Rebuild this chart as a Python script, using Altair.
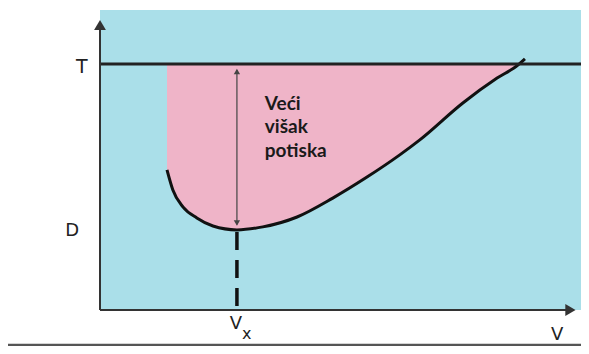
import altair as alt
import pandas as pd

# Drag curve D(V) (schematic units)
curve_v = [1.37, 1.49, 1.70, 1.98, 2.31, 2.80, 3.33, 4.03, 4.76, 5.46, 6.13, 6.54, 7.42, 8.12, 8.55, 8.69]
curve_f = [4.67, 4.00, 3.43, 3.07, 2.80, 2.67, 2.77, 3.10, 3.73, 4.43, 5.17, 5.67, 6.90, 7.73, 8.17, 8.37]
thrust_T = 8.2
v_x = 2.80
v_cross = 8.56

# labels
lab_text = ["T", "D", "V", "V", "x"]
lab_v = [-0.37, -0.57, 9.35, 2.78, 3.0]
lab_f = [8.10, 2.65, -0.83, -0.45, -0.80]
lab_size = [19, 18, 18, 18, 16]

note_lines = ["Veći", "višak", "potiska"]
note_v = 3.37
note_f = 6.67

BLUE = "#aadfe9"
PINK = "#efb4c8"

curve = pd.DataFrame({"V": curve_v, "F": curve_f})
fill = curve[curve["V"] <= v_cross].copy()
fill = pd.concat([fill, pd.DataFrame({"V": [v_cross], "F": [thrust_T]})], ignore_index=True)
fill["T"] = thrust_T

xs = alt.Scale(domain=[0, 9.836], nice=False, zero=False)
ys = alt.Scale(domain=[0, 10], nice=False, zero=False)
X = lambda f: alt.X(f, type="quantitative", scale=xs, axis=None)
Y = lambda f: alt.Y(f, type="quantitative", scale=ys, axis=None)

area = alt.Chart(fill).mark_area(color=PINK, interpolate="monotone", opacity=1).encode(
    x=X("V"), y=Y("F"), y2="T")

line = alt.Chart(curve).mark_line(color="#111", strokeWidth=3, interpolate="monotone").encode(
    x=X("V"), y=Y("F"))

tline = alt.Chart(pd.DataFrame({"a": [0], "b": [9.836], "T": [thrust_T]})).mark_rule(
    color="#222", strokeWidth=3).encode(x=X("a"), x2="b", y=Y("T"))

axes_df = pd.DataFrame({"x1": [0, 0], "x2": [0, 9.6], "y1": [0, 0], "y2": [9.55, 0]})
axes = alt.Chart(axes_df).mark_rule(color="#333", strokeWidth=2).encode(
    x=X("x1"), x2="x2", y=Y("y1"), y2="y2")

heads = pd.DataFrame({"V": [0, 9.62], "F": [9.5, 0], "shape": ["triangle-up", "triangle-right"]})
arrowheads = alt.Chart(heads).mark_point(filled=True, color="#333", size=140, opacity=1).encode(
    x=X("V"), y=Y("F"), shape=alt.Shape("shape:N", scale=None))

# double arrow for excess thrust
darrow = alt.Chart(pd.DataFrame({"V": [v_x], "a": [8.0], "b": [2.85]})).mark_rule(
    color="#444", strokeWidth=1.2).encode(x=X("V"), y=Y("a"), y2="b")
dheads = pd.DataFrame({"V": [v_x, v_x], "F": [7.95, 2.9], "shape": ["triangle-up", "triangle-down"]})
dheadm = alt.Chart(dheads).mark_point(filled=True, color="#444", size=40, opacity=1).encode(
    x=X("V"), y=Y("F"), shape=alt.Shape("shape:N", scale=None))

dashed = alt.Chart(pd.DataFrame({"V": [v_x], "a": [2.6], "b": [0]})).mark_rule(
    color="#111", strokeWidth=3.5, strokeDash=[18, 10]).encode(x=X("V"), y=Y("a"), y2="b")

bottom = alt.Chart(pd.DataFrame({"a": [-2.1], "b": [9.836], "F": [-1.17]})).mark_rule(
    color="#555", strokeWidth=2.5).encode(x=X("a"), x2="b", y=Y("F"))

labs = pd.DataFrame({"t": lab_text, "V": lab_v, "F": lab_f, "s": lab_size})
labels = alt.Chart(labs).mark_text(font="DejaVu Sans", color="#222", baseline="middle").encode(
    x=X("V"), y=Y("F"), text="t:N", size=alt.Size("s:Q", scale=None))

notes = pd.DataFrame({"t": ["\n".join(note_lines)], "V": [note_v], "F": [note_f]})
note = alt.Chart(notes).mark_text(font="Lato", fontSize=19, fontWeight="bold", color="#1a1a1a",
                                  align="left", baseline="alphabetic", lineBreak="\n",
                                  lineHeight=23.5).encode(
    x=X("V"), y=Y("F"), text="t:N")

chart = alt.layer(area, line, tline, dashed, darrow, dheadm, axes, arrowheads, bottom, labels, note).properties(
    width=481, height=300,
    padding={"left": 92, "top": 2, "right": 0, "bottom": 36},
    autosize=alt.AutoSizeParams(type="none"),
    background="white",
).configure_view(fill=BLUE, stroke=None)

chart.save("out.html", embed_options={"renderer": "svg", "actions": False})
